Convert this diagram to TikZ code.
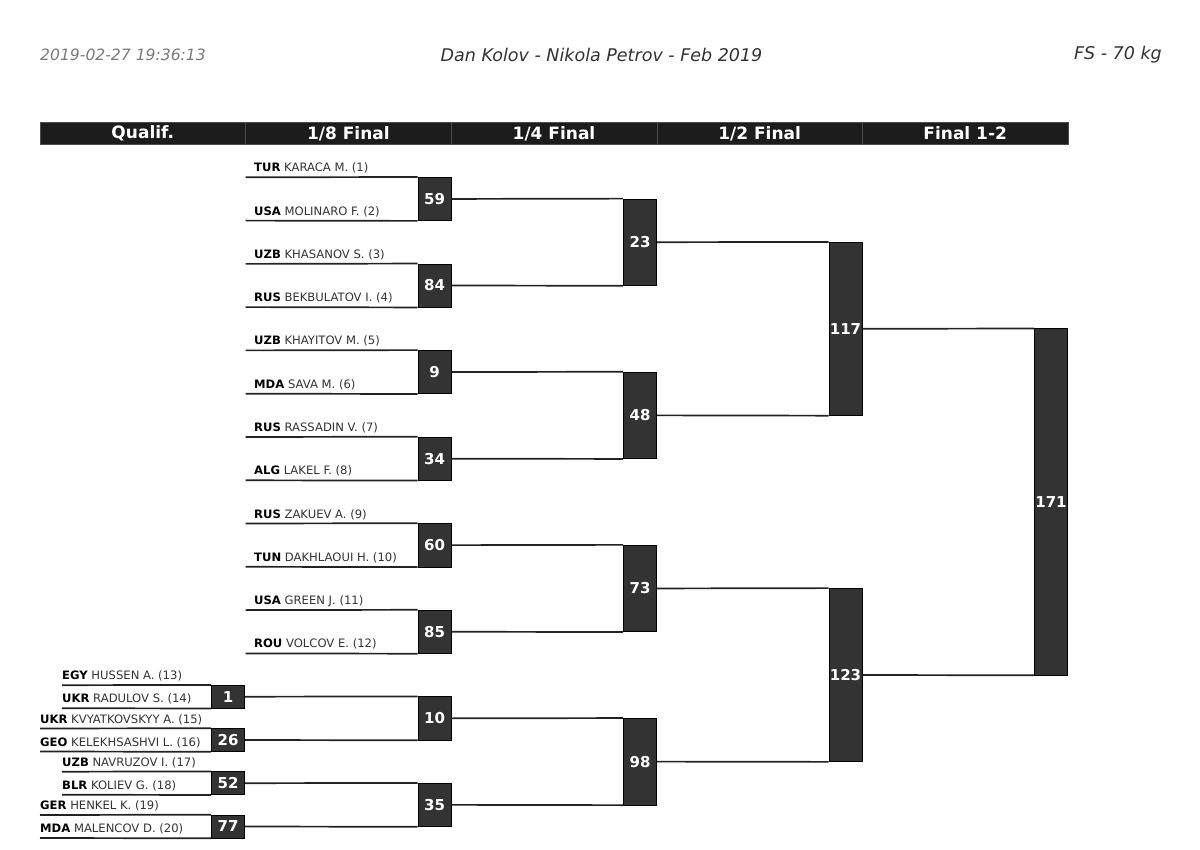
\documentclass[tikz,border=0pt]{standalone}
\usepackage{fontspec}
\setmainfont{DejaVu Sans}
\definecolor{boxgray}{HTML}{333333}
\definecolor{hdrfill}{HTML}{1C1C1C}
\definecolor{linecol}{HTML}{222222}
\definecolor{namecol}{HTML}{333333}
\definecolor{dategray}{HTML}{7A7A7A}
\definecolor{titlecol}{HTML}{333333}
\tikzset{
  box/.style={draw=black, line width=0.6pt, fill=boxgray, text=white,
    font=\bfseries\fontsize{15}{15}\selectfont, minimum width=33pt, inner sep=0pt},
  ln/.style={draw=linecol, line width=1.7pt},
  lbl/.style={anchor=base west, inner sep=0pt, text=namecol, font=\fontsize{11.6}{11.6}\selectfont},
  hdrcell/.style={fill=hdrfill, draw=gray!60!black, line width=0.5pt, text=white,
    font=\bfseries\fontsize{17}{17}\selectfont, minimum width=205.6pt, minimum height=21.6pt, inner sep=0pt},
  toptext/.style={inner sep=0pt, font=\itshape\fontsize{17.5}{17.5}\selectfont}
}
\newcommand{\ctry}[1]{\textcolor{black}{\bfseries #1}}
\begin{document}
\begin{tikzpicture}[x=1pt,y=-1pt]
\useasboundingbox[fill=white] (0,0) rectangle (1200,850);

% top line
\node[toptext, text=dategray, anchor=west, font=\itshape\fontsize{15.6}{15.6}\selectfont] (date) at (40,55) {2019-02-27 19:36:13};
\node[toptext, text=titlecol] (title) at (601.5,55) {Dan Kolov - Nikola Petrov - Feb 2019};
\node[toptext, text=titlecol, anchor=east] (cat) at (1162,55) {FS - 70 kg};

% header
\node[hdrcell] (h1) at (142.8,133.5) {\raisebox{-1pt}{Qualif.}};
\node[hdrcell] (h2) at (348.4,133.5) {\raisebox{-1pt}{1/8 Final}};
\node[hdrcell] (h3) at (554.0,133.5) {\raisebox{-1pt}{1/4 Final}};
\node[hdrcell] (h4) at (759.6,133.5) {\raisebox{-1pt}{1/2 Final}};
\node[hdrcell] (h5) at (965.2,133.5) {\raisebox{-1pt}{Final 1-2}};

% qualification boxes
\node[box, minimum height=23pt] (b1)  at (228,696.7) {1};
\node[box, minimum height=23pt] (b26) at (228,740.0) {26};
\node[box, minimum height=23pt] (b52) at (228,783.2) {52};
\node[box, minimum height=23pt] (b77) at (228,826.5) {77};

% 1/8 boxes
\node[box, minimum height=43.3pt] (b59) at (434.5,198.95) {59};
\node[box, minimum height=43.3pt] (b84) at (434.5,285.5) {84};
\node[box, minimum height=43.3pt] (b9)  at (434.5,372.05) {9};
\node[box, minimum height=43.3pt] (b34) at (434.5,458.65) {34};
\node[box, minimum height=43.3pt] (b60) at (434.5,545.15) {60};
\node[box, minimum height=43.3pt] (b85) at (434.5,631.75) {85};
\node[box, minimum height=43.3pt] (b10) at (434.5,718.35) {10};
\node[box, minimum height=43.3pt] (b35) at (434.5,804.85) {35};

% 1/4 boxes
\node[box, minimum height=86.55pt] (b23) at (640,242.2) {23};
\node[box, minimum height=86.6pt]  (b48) at (640,415.35) {48};
\node[box, minimum height=86.6pt]  (b73) at (640,588.45) {73};
\node[box, minimum height=86.5pt]  (b98) at (640,761.6) {98};

% 1/2 boxes
\node[box, minimum height=173.15pt] (b117) at (845.5,328.8) {117};
\node[box, minimum height=173.15pt] (b123) at (845.5,675.0) {123};

% final
\node[box, minimum height=346.2pt] (b171) at (1051,501.9) {171};

% 1/8 entrant lines
\coordinate (e1)  at (245.5,177.3);
\coordinate (e2)  at (245.5,220.6);
\coordinate (e3)  at (245.5,263.9);
\coordinate (e4)  at (245.5,307.1);
\coordinate (e5)  at (245.5,350.4);
\coordinate (e6)  at (245.5,393.7);
\coordinate (e7)  at (245.5,437.0);
\coordinate (e8)  at (245.5,480.3);
\coordinate (e9)  at (245.5,523.5);
\coordinate (e10) at (245.5,566.8);
\coordinate (e11) at (245.5,610.1);
\coordinate (e12) at (245.5,653.4);
\draw[ln] (e1) -- (b59.north west);
\draw[ln] (e2) -- (b59.south west);
\draw[ln] (e3) -- (b84.north west);
\draw[ln] (e4) -- (b84.south west);
\draw[ln] (e5) -- (b9.north west);
\draw[ln] (e6) -- (b9.south west);
\draw[ln] (e7) -- (b34.north west);
\draw[ln] (e8) -- (b34.south west);
\draw[ln] (e9) -- (b60.north west);
\draw[ln] (e10) -- (b60.south west);
\draw[ln] (e11) -- (b85.north west);
\draw[ln] (e12) -- (b85.south west);

% qualif entrant lines
\coordinate (q13) at (62,685.2);
\coordinate (q14) at (62,708.2);
\coordinate (q15) at (40,728.5);
\coordinate (q16) at (40,751.5);
\coordinate (q17) at (62,771.7);
\coordinate (q18) at (62,794.7);
\coordinate (q19) at (40,815.0);
\coordinate (q20) at (40,838.0);
\draw[ln] (q13) -- (b1.north west);
\draw[ln] (q14) -- (b1.south west);
\draw[ln] (q15) -- (b26.north west);
\draw[ln] (q16) -- (b26.south west);
\draw[ln] (q17) -- (b52.north west);
\draw[ln] (q18) -- (b52.south west);
\draw[ln] (q19) -- (b77.north west);
\draw[ln] (q20) -- (b77.south west);

% connectors between rounds
\draw[ln] (b1.east)  -- (b10.north west);
\draw[ln] (b26.east) -- (b10.south west);
\draw[ln] (b52.east) -- (b35.north west);
\draw[ln] (b77.east) -- (b35.south west);

\draw[ln] (b59.east) -- (b23.north west);
\draw[ln] (b84.east) -- (b23.south west);
\draw[ln] (b9.east)  -- (b48.north west);
\draw[ln] (b34.east) -- (b48.south west);
\draw[ln] (b60.east) -- (b73.north west);
\draw[ln] (b85.east) -- (b73.south west);
\draw[ln] (b10.east) -- (b98.north west);
\draw[ln] (b35.east) -- (b98.south west);

\draw[ln] (b23.east) -- (b117.north west);
\draw[ln] (b48.east) -- (b117.south west);
\draw[ln] (b73.east) -- (b123.north west);
\draw[ln] (b98.east) -- (b123.south west);

\draw[ln] (b117.east) -- (b171.north west);
\draw[ln] (b123.east) -- (b171.south west);

% 1/8 labels
\node[lbl] (n1)  at (254,171.8) {\ctry{TUR} KARACA M. (1)};
\node[lbl] (n2)  at (254,215.1) {\ctry{USA} MOLINARO F. (2)};
\node[lbl] (n3)  at (254,258.4) {\ctry{UZB} KHASANOV S. (3)};
\node[lbl] (n4)  at (254,301.6) {\ctry{RUS} BEKBULATOV I. (4)};
\node[lbl] (n5)  at (254,344.9) {\ctry{UZB} KHAYITOV M. (5)};
\node[lbl] (n6)  at (254,388.2) {\ctry{MDA} SAVA M. (6)};
\node[lbl] (n7)  at (254,431.5) {\ctry{RUS} RASSADIN V. (7)};
\node[lbl] (n8)  at (254,474.8) {\ctry{ALG} LAKEL F. (8)};
\node[lbl] (n9)  at (254,518.0) {\ctry{RUS} ZAKUEV A. (9)};
\node[lbl] (n10) at (254,561.3) {\ctry{TUN} DAKHLAOUI H. (10)};
\node[lbl] (n11) at (254,604.6) {\ctry{USA} GREEN J. (11)};
\node[lbl] (n12) at (254,647.9) {\ctry{ROU} VOLCOV E. (12)};

% qualif labels
\node[lbl] (n13) at (62,679.7) {\ctry{EGY} HUSSEN A. (13)};
\node[lbl] (n14) at (62,702.7) {\ctry{UKR} RADULOV S. (14)};
\node[lbl] (n15) at (40,723.0) {\ctry{UKR} KVYATKOVSKYY A. (15)};
\node[lbl] (n16) at (40,746.0) {\ctry{GEO} KELEKHSASHVI L. (16)};
\node[lbl] (n17) at (62,766.2) {\ctry{UZB} NAVRUZOV I. (17)};
\node[lbl] (n18) at (62,789.2) {\ctry{BLR} KOLIEV G. (18)};
\node[lbl] (n19) at (40,809.5) {\ctry{GER} HENKEL K. (19)};
\node[lbl] (n20) at (40,832.5) {\ctry{MDA} MALENCOV D. (20)};
\end{tikzpicture}
\end{document}
